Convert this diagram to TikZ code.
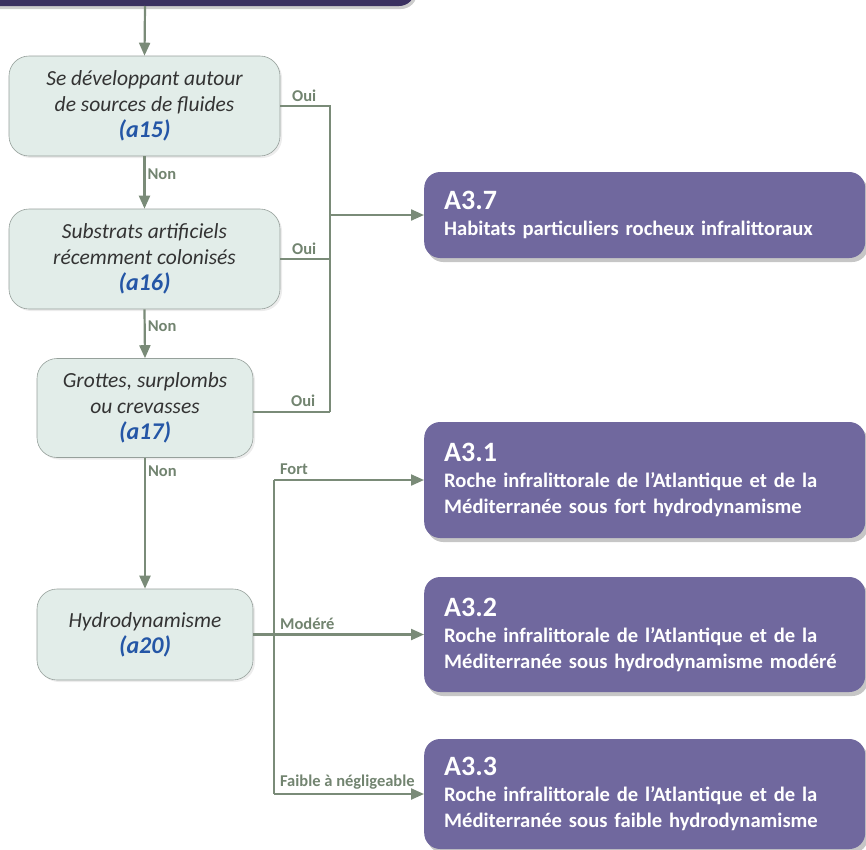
\documentclass[tikz,border=0pt]{standalone}
\usepackage{fontspec}
\setmainfont{Carlito}
\usetikzlibrary{arrows.meta,shadows}

\definecolor{habpurple}{RGB}{112,104,158}
\definecolor{habdark}{RGB}{58,48,96}
\definecolor{flowgreen}{RGB}{122,139,120}
\definecolor{lblgreen}{RGB}{114,132,112}
\definecolor{qfill}{RGB}{226,237,233}
\definecolor{qborder}{RGB}{150,160,155}
\definecolor{codeblue}{RGB}{36,86,166}

\tikzset{
  question/.style={draw=qborder, line width=0.6pt, fill=qfill, rounded corners=20pt,
    align=center, font=\fontsize{21.5}{26}\selectfont\itshape, text=black!80,
    drop shadow={shadow xshift=2pt, shadow yshift=-2pt, opacity=0.15}},
  habitat/.style={fill=habpurple, rounded corners=16pt, text=white, align=left,
    font=\fontsize{20.6}{26}\selectfont\bfseries, text width=401pt, inner xsep=20pt,
    anchor=west, minimum width=441pt,
    drop shadow={shadow xshift=3pt, shadow yshift=-4pt, opacity=0.45}},
  flow/.style={draw=flowgreen, line width=2.2pt},
  flowarrow/.style={flow, -{Triangle[length=13pt,width=11pt]}},
  choice/.style={text=lblgreen, font=\fontsize{16.5}{18}\selectfont\bfseries, inner sep=2pt},
}
\newcommand{\hcode}[1]{{\fontsize{24}{28}\selectfont\bfseries\itshape\color{codeblue}#1}}
\newcommand{\htitle}[1]{{\fontsize{28}{30}\selectfont #1}}

\begin{document}
\begin{tikzpicture}[x=1pt,y=-1pt]
\useasboundingbox (0,0) rectangle (866,849);

% top box (cut by the page)
\fill[habdark, rounded corners=16pt, drop shadow={shadow xshift=2pt, shadow yshift=-3pt, opacity=0.4}]
  (-40,-60) rectangle (415,6);
\coordinate (top) at (145,6);

% questions
\node[question, minimum width=271pt, minimum height=100pt] (a15) at (144.5,106)
  {Se développant autour\\de sources de fluides\\\hcode{(a15)}};
\node[question, minimum width=271pt, minimum height=100pt] (a16) at (144.5,259)
  {Substrats artificiels\\récemment colonisés\\\hcode{(a16)}};
\node[question, minimum width=216pt, minimum height=99pt] (a17) at (145,408)
  {Grottes, surplombs\\ou crevasses\\\hcode{(a17)}};
\node[question, minimum width=216pt, minimum height=91pt] (a20) at (145,634.5)
  {Hydrodynamisme\\\hcode{(a20)}};

% habitats
\node[habitat, minimum height=86pt] (A37) at (424,215)
  {\htitle{A3.7}\\Habitats particuliers rocheux infralittoraux};
\node[habitat, minimum height=116pt] (A31) at (424,480)
  {\htitle{A3.1}\\Roche infralittorale de l’Atlantique et de la\\Méditerranée sous fort hydrodynamisme};
\node[habitat, minimum height=115pt] (A32) at (424,634.5)
  {\htitle{A3.2}\\Roche infralittorale de l’Atlantique et de la\\Méditerranée sous hydrodynamisme modéré};
\node[habitat, minimum height=110pt] (A33) at (424,794)
  {\htitle{A3.3}\\Roche infralittorale de l’Atlantique et de la\\Méditerranée sous faible hydrodynamisme};

% junctions
\coordinate (j15) at (330,106);
\coordinate (j16) at (330,259);
\coordinate (j17) at (330,412);
\coordinate (j37) at (330,215);
\coordinate (h1) at (274,480);
\coordinate (h2) at (274,634.5);
\coordinate (h3) at (274,794);

% Non
\draw[flowarrow] (top) -- (a15.north);
\draw[flowarrow] (a15.south) -- node[choice, right, pos=0.35]{Non} (a16.north);
\draw[flowarrow] (a16.south) -- node[choice, right, pos=0.35]{Non} (a17.north);
\draw[flowarrow] (a17.south) -- node[choice, right, pos=0.1]{Non} (a20.north);

% Oui
\draw[flow] (a15.east |- j15) -- node[choice, above, pos=0.48, yshift=1pt]{Oui} (j15) -- (j17);
\draw[flow] (a16.east |- j16) -- node[choice, above, pos=0.48, yshift=1pt]{Oui} (j16);
\draw[flow] (a17.east |- j17) -- node[choice, above, pos=0.65, yshift=2pt]{Oui} (j17);
\draw[flowarrow] (j37) -- (A37.west);

% hydrodynamisme
\draw[flow] (h1) -- (h3);
\draw[flow] (a20.east) -- (h2);
\draw[flowarrow] (h1) -- node[choice, above right, pos=0, xshift=3pt, yshift=2pt]{Fort} (A31.west);
\draw[flowarrow] (h2) -- node[choice, above right, pos=0, xshift=3pt, yshift=2pt]{Modéré} (A32.west);
\draw[flowarrow] (h3) -- node[choice, above right, pos=0, xshift=3pt, yshift=2pt]{Faible à négligeable} (A33.west);
\end{tikzpicture}
\end{document}
